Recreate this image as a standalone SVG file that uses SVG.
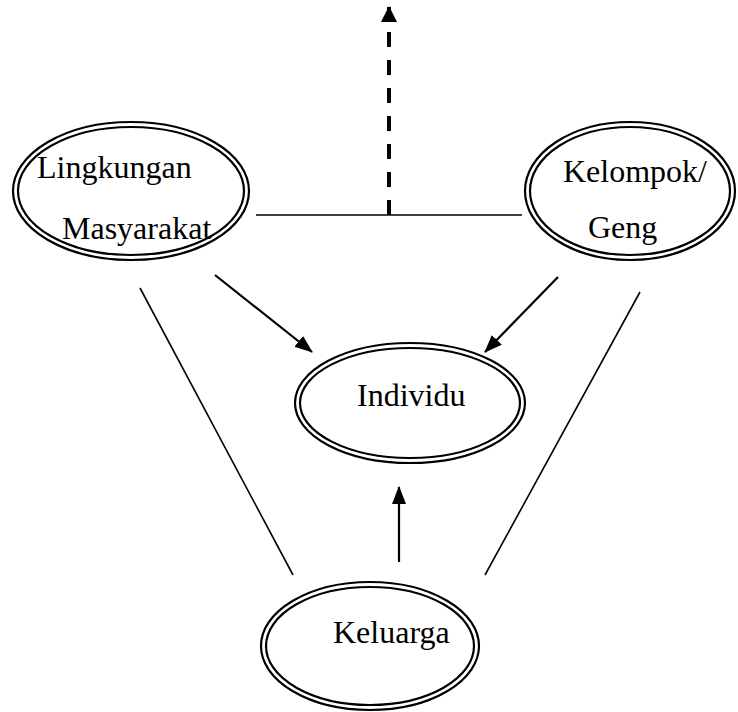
<svg xmlns="http://www.w3.org/2000/svg" width="738" height="712" viewBox="0 0 738 712">
<style>
.o{fill:none;stroke:#000;stroke-width:2.2}
.t{font-family:"Liberation Serif",serif;font-size:32px;fill:#000}
.l{stroke:#000;stroke-width:1.6;fill:none}
.a{stroke:#000;stroke-width:2.2;fill:none}
</style>
<defs>
<marker id="ah" viewBox="0 0 18 14" refX="17" refY="7" markerWidth="18" markerHeight="14" orient="auto" markerUnits="userSpaceOnUse">
<path d="M0,0 L18,7 L0,14 z" fill="#000"/>
</marker>
<marker id="ah2" viewBox="0 0 16 16" refX="15" refY="8" markerWidth="16" markerHeight="16" orient="auto" markerUnits="userSpaceOnUse">
<path d="M0,0 L16,8 L0,16 z" fill="#000"/>
</marker>
</defs>
<rect width="738" height="712" fill="#fff"/>
<g id="connectors">
<line class="l" x1="256" y1="215" x2="522" y2="215"/>
<line x1="389" y1="215" x2="389" y2="7" stroke="#000" stroke-width="4" stroke-dasharray="15 13" marker-end="url(#ah2)"/>
<line class="a" x1="215" y1="275" x2="312" y2="352" marker-end="url(#ah)"/>
<line class="a" x1="558" y1="277" x2="485" y2="352" marker-end="url(#ah)"/>
<line class="a" x1="399" y1="562" x2="399" y2="487" marker-end="url(#ah)"/>
<line class="l" x1="140" y1="288" x2="293" y2="575"/>
<line class="l" x1="640" y1="292" x2="485" y2="575"/>
</g>
<g id="lingkungan">
<ellipse class="o" cx="131" cy="191" rx="118" ry="69"/>
<ellipse class="o" cx="131" cy="191" rx="113" ry="64"/>
<text class="t" x="37" y="178">Lingkungan</text>
<text class="t" x="62" y="239">Masyarakat</text>
</g>
<g id="kelompok">
<ellipse class="o" cx="630" cy="191" rx="105" ry="69"/>
<ellipse class="o" cx="630" cy="191" rx="100" ry="64"/>
<text class="t" x="563" y="182">Kelompok/</text>
<text class="t" x="588" y="238">Geng</text>
</g>
<g id="individu">
<ellipse class="o" cx="410" cy="403" rx="115" ry="60"/>
<ellipse class="o" cx="410" cy="403" rx="110" ry="55"/>
<text class="t" x="357" y="406">Individu</text>
</g>
<g id="keluarga">
<ellipse class="o" cx="370" cy="646" rx="109" ry="64"/>
<ellipse class="o" cx="370" cy="646" rx="104" ry="59"/>
<text class="t" x="333" y="643">Keluarga</text>
</g>
</svg>
